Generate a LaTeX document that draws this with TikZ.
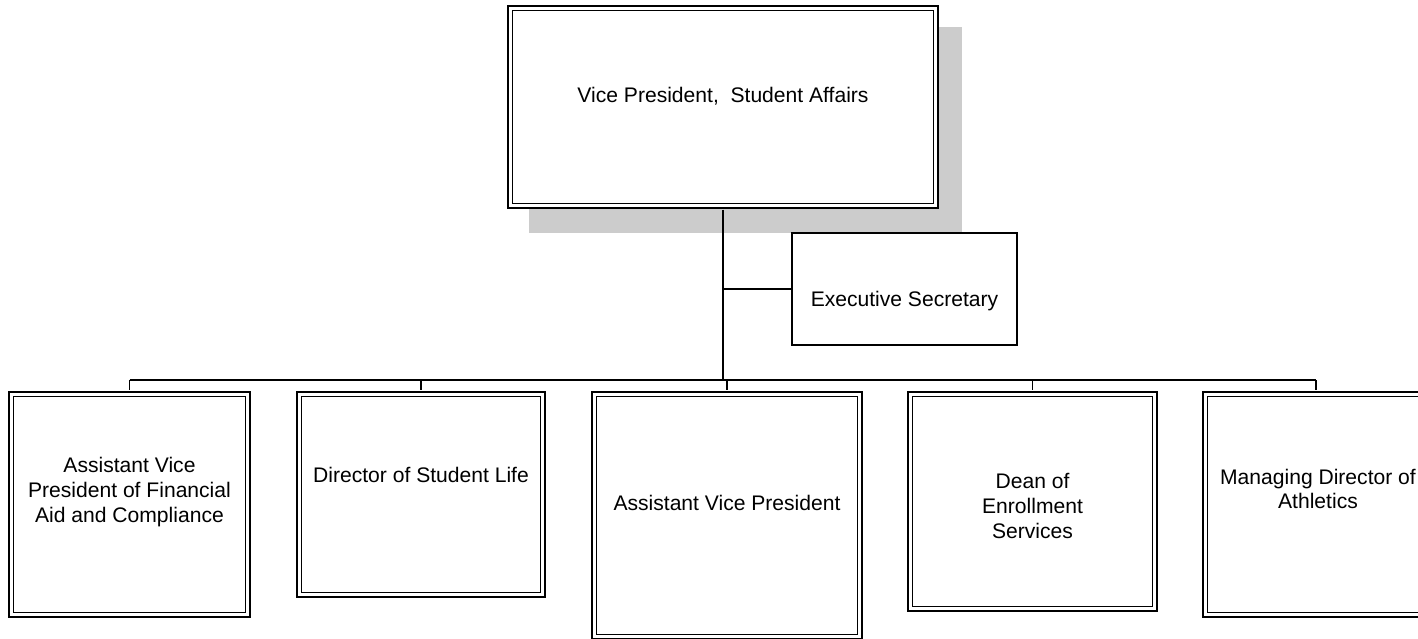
\documentclass[tikz,border=0pt]{standalone}
\usepackage{fontspec}
\setmainfont{Liberation Sans}
\usetikzlibrary{positioning}

\tikzset{
    post/.style = {draw, double, line width=0.9pt, double distance=1.8pt, fill=white, inner sep=0pt},
    secbox/.style = {draw, line width=1pt, fill=white, inner sep=0pt},
    txt/.style = {align=center, inner sep=0pt, font=\fontsize{12}{14}\selectfont},
    link/.style = {line width=1pt},
}

\begin{document}
\begin{tikzpicture}[x=0.02cm, y=-0.02cm]
    \useasboundingbox (0,0) rectangle (1418,639);

    % shadow of the top box
    \fill[black!20] (529,27) rectangle (962,233);

    % top
    \node[post, minimum width=8.51cm, minimum height=3.95cm] (vp) at (723,107) {};
    \node[secbox, minimum width=4.505cm, minimum height=2.245cm] (sec) at (904.5,289) {};
    \coordinate (bus) at (0,380);

    % row of posts
    \node[post, minimum width=4.73cm, minimum height=4.41cm] (b1) at (129.5,504.5) {};
    \node[post, minimum width=4.87cm, minimum height=4.01cm] (b2) at (421,494.5) {};
    \node[post, minimum width=5.31cm, minimum height=4.85cm] (b3) at (727,515.5) {};
    \node[post, minimum width=4.89cm, minimum height=4.29cm] (b4) at (1032.5,501.5) {};
    \node[post, minimum width=4.43cm, minimum height=4.41cm] (b5) at (1316,504.5) {};

    % lines
    \draw[link, shorten <=1.8pt] (vp.south) -- (vp.south |- bus);
    \draw[link] (sec.west) -- (sec.west -| vp.south);
    \draw[link] (b1.north |- bus) -- (b5.north |- bus);
    \foreach \b in {b1,b2,b3,b4,b5}
        \draw[link, shorten >=1.8pt] (\b.north |- bus) -- (\b.north);

    % texts
    \node[txt] (t0) at (723,96) {Vice President,\ \ Student Affairs};
    \node[txt] (ts) at (904.5,301) {Executive Secretary};
    \node[txt] (t1) at (129.5,492) {Assistant Vice\\President of Financial\\Aid and Compliance};
    \node[txt] (t2) at (421,475) {Director of Student Life};
    \node[txt] (t3) at (727,503) {Assistant Vice President};
    \node[txt] (t4) at (1032.5,506) {Dean of\\Enrollment\\Services};
    \node[txt] (t5) at (1318,489) {Managing Director of\\Athletics};

\end{tikzpicture}
\end{document}
